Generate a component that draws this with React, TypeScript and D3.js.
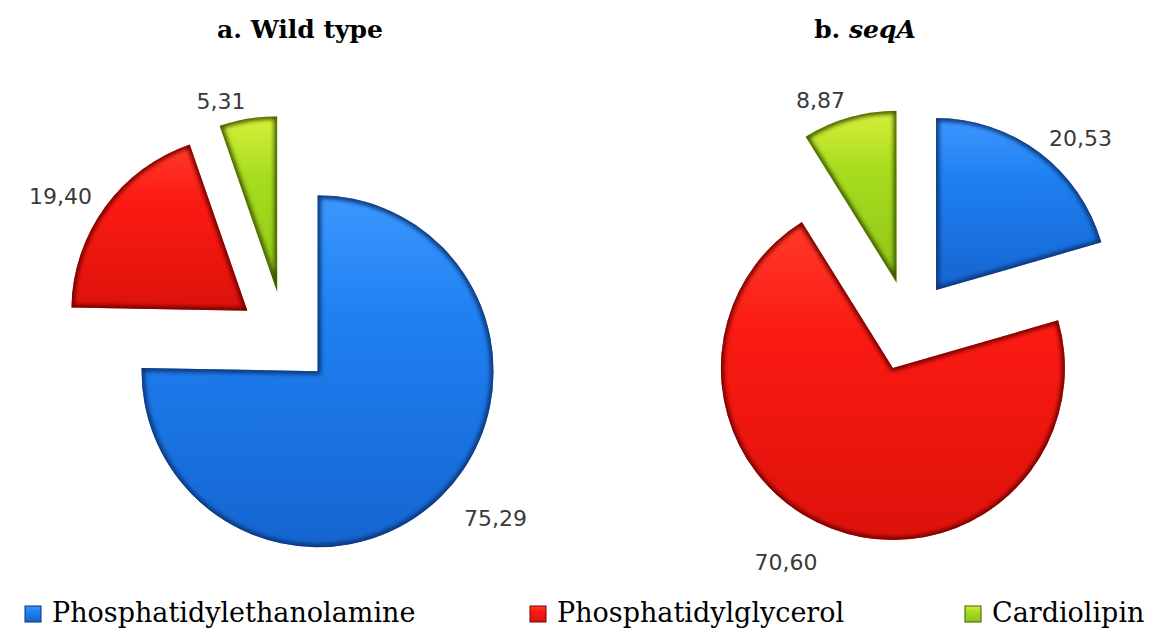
import React from 'react';
import * as d3 from 'd3';

// data
const categories = ['Phosphatidylethanolamine', 'Phosphatidylglycerol', 'Cardiolipin'];
const wildTypeValues = [75.29, 19.4, 5.31];
const seqAValues = [20.53, 70.6, 8.87];

const W = 1169;
const H = 629;
const serif = "'DejaVu Serif', 'Liberation Serif', serif";

const colors = ['#1f80f2', '#fb1a12', '#a6dd1e'];
const lightColors = ['#3c98ff', '#ff3a2a', '#d8ef3a'];
const darkColors = ['#1565d0', '#dc120b', '#8fc416'];
const edgeColors = ['#07306e', '#6e0603', '#3d5804'];

const fmt = (v: number) => v.toFixed(2).replace('.', ',');

const PiePanel = ({ id, values, cx, cy, r, explode, gap }: any) => {
  const arcs = d3.pie<number>().sort(null).startAngle(0).endAngle(2 * Math.PI)(values);
  const arcGen = d3.arc<d3.PieArcDatum<number>>().innerRadius(0).outerRadius(r);

  return (
    <g>
      <g transform={`translate(${cx},${cy})`}>
        {arcs.map((a, i) => {
          const mid = (a.startAngle + a.endAngle) / 2;
          const dx = Math.sin(mid) * explode;
          const dy = -Math.cos(mid) * explode;
          const d = arcGen(a) || '';
          return (
            <g key={i} transform={`translate(${dx},${dy})`}>
              <clipPath id={`${id}-clip-${i}`}>
                <path d={d} />
              </clipPath>
              <path d={d} fill={`url(#grad-${i})`} />
              <g clipPath={`url(#${id}-clip-${i})`}>
                <path d={d} fill="none" stroke={edgeColors[i]} strokeWidth={6} filter="url(#soft)" />
              </g>
            </g>
          );
        })}
      </g>
      {arcs.map((a, i) => {
        const mid = (a.startAngle + a.endAngle) / 2;
        // labels under the pie sit a bit further out
        const rr = explode + r + gap + 24 * Math.max(0, -Math.cos(mid));
        const x = cx + Math.sin(mid) * rr;
        const y = cy - Math.cos(mid) * rr;
        return (
          <text key={i} x={x} y={y} textAnchor={Math.sin(mid) < 0 ? 'end' : 'start'}
            dominantBaseline="middle" fontFamily="DejaVu Sans" fontSize={22} fill="#3a3a3a">
            {fmt(a.data)}
          </text>
        );
      })}
    </g>
  );
};

const legendX = [25, 530, 965];

export default function App() {
  return (
    <svg width={W} height={H} style={{ position: 'absolute', left: 0, top: 0, background: '#fff' }}>
      <defs>
        {colors.map((c, i) => (
          <linearGradient key={i} id={`grad-${i}`} x1="0" y1="0" x2="0" y2="1">
            <stop offset="0" stopColor={lightColors[i]} />
            <stop offset="0.35" stopColor={c} />
            <stop offset="1" stopColor={darkColors[i]} />
          </linearGradient>
        ))}
        <filter id="soft" x="-20%" y="-20%" width="140%" height="140%">
          <feGaussianBlur stdDeviation="2" />
        </filter>
      </defs>

      <text x={300} y={38} textAnchor="middle" fontFamily={serif} fontWeight="bold" fontSize={25}>
        a. Wild type
      </text>
      <text x={865} y={38} textAnchor="middle" fontFamily={serif} fontWeight="bold" fontSize={25}>
        b. <tspan fontStyle="italic">seqA</tspan>
      </text>

      <PiePanel id="wt" values={wildTypeValues} cx={285} cy={338} r={176} explode={46.5} gap={16} />
      <PiePanel id="sq" values={seqAValues} cx={909} cy={326} r={172} explode={45} gap={16} />

      {categories.map((c, i) => (
        <g key={c} transform={`translate(${legendX[i]},606)`}>
          <rect x={0} y={0} width={16} height={16} fill={`url(#grad-${i})`} stroke={edgeColors[i]} strokeWidth={1} />
          <text x={27} y={16} fontFamily={serif} fontSize={27} fill="#000">{c}</text>
        </g>
      ))}
    </svg>
  );
}
